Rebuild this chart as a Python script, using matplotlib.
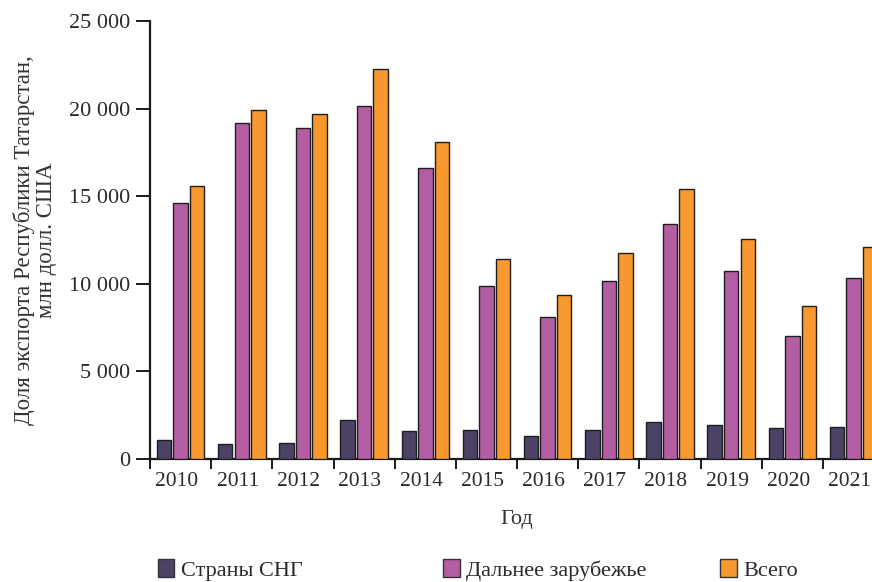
import numpy as np
import matplotlib
matplotlib.use("Agg")
import matplotlib.pyplot as plt
import matplotlib.transforms as mtransforms
from matplotlib.ticker import FuncFormatter, FixedLocator
from matplotlib.patches import Patch

plt.rcParams['font.family'] = ['Liberation Serif', 'DejaVu Serif']

years = ['2010', '2011', '2012', '2013', '2014', '2015',
         '2016', '2017', '2018', '2019', '2020', '2021']
sng = [1070, 840, 910, 2230, 1600, 1660, 1310, 1670, 2110, 1940, 1770, 1840]
far_abroad = [14590, 19200, 18870, 20150, 16590, 9860, 8120, 10140, 13390, 10710, 7000, 10330]
total = [15600, 19920, 19690, 22280, 18090, 11420, 9340, 11740, 15390, 12560, 8720, 12080]

series_names = ['Страны СНГ', 'Дальнее зарубежье', 'Всего']
colors = ['#4b4266', '#b35ea2', '#f7992f']
legend_x = [0.181, 0.508, 0.826]  # left edge of each legend entry

fig = plt.figure(figsize=(8.72, 5.82), dpi=100)
ax = fig.add_axes([0.172, 0.2113, 0.842, 0.7526])

x = np.arange(len(years))
step = 0.27
width = 0.237
for k, (vals, c) in enumerate(zip([sng, far_abroad, total], colors)):
    ax.bar(x + (k - 1) * step, vals, width, color=c, edgecolor='#1e1e1e',
           linewidth=1.0, zorder=3)

ax.set_xlim(-0.5, len(years) - 0.5)
ax.set_ylim(0, 25000)

for s in ['top', 'right']:
    ax.spines[s].set_visible(False)
for s in ['left', 'bottom']:
    ax.spines[s].set_linewidth(1.6)
    ax.spines[s].set_color('#1a1a1a')

fs = 16
ax.set_yticks(np.arange(0, 25001, 5000))
ax.yaxis.set_major_formatter(FuncFormatter(lambda v, p: f'{int(v):,}'.replace(',', ' ')))
ax.tick_params(axis='y', length=10, width=1.4, labelsize=fs, pad=4,
               color='#1a1a1a', labelcolor='#2a2a2a')

# group boundaries carry the ticks, year labels sit between them
ax.xaxis.set_major_locator(FixedLocator(np.arange(len(years) + 1) - 0.5))
ax.xaxis.set_major_formatter(FuncFormatter(lambda v, p: ''))
ax.xaxis.set_minor_locator(FixedLocator(x))
ax.set_xticklabels(years, minor=True)
ax.tick_params(axis='x', which='major', length=7, width=1.4, color='#1a1a1a')
ax.tick_params(axis='x', which='minor', length=0, labelsize=15.5, pad=9,
               labelcolor='#2a2a2a')
shift = mtransforms.ScaledTranslation(-3 / 72, 0, fig.dpi_scale_trans)
for lbl in ax.get_xticklabels(minor=True):
    lbl.set_transform(lbl.get_transform() + shift)

ax.set_ylabel('Доля экспорта Республики Татарстан,\nмлн долл. США', fontsize=16.5,
              labelpad=9, linespacing=1.05, color='#333333')
ax.set_xlabel('Год', fontsize=fs, labelpad=14, color='#333333')

for name, c, lx in zip(series_names, colors, legend_x):
    leg = fig.legend([Patch(facecolor=c, edgecolor='#333333', linewidth=1.0)], [name],
                     loc='center left', bbox_to_anchor=(lx, 0.021), frameon=False,
                     fontsize=fs, handlelength=0.75, handleheight=0.9,
                     handletextpad=0.3, borderpad=0, borderaxespad=0)
    for t in leg.get_texts():
        t.set_color('#2a2a2a')

fig.savefig('out.png', dpi=100)
